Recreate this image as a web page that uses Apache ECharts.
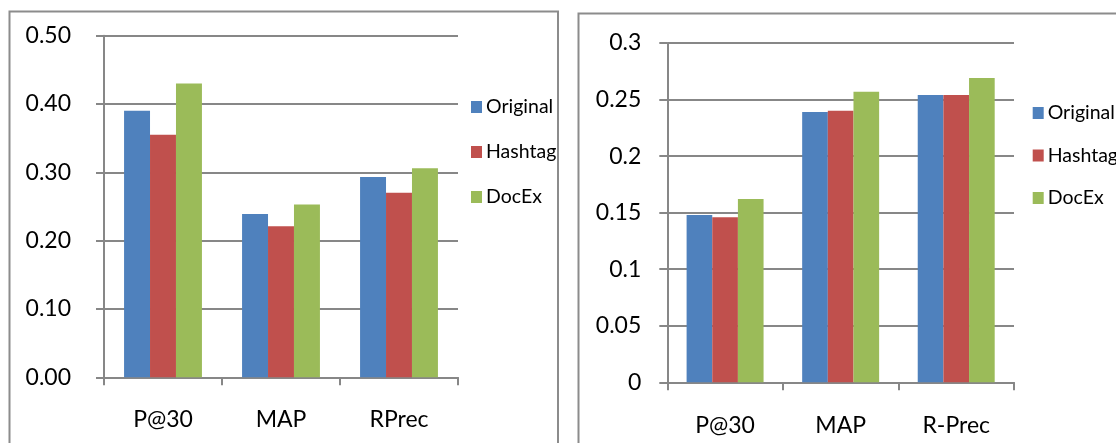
<!DOCTYPE html>
<html>
<head>
<meta charset="utf-8">
<script src="https://cdn.jsdelivr.net/npm/echarts@6/dist/echarts.min.js"></script>
<style>
  html, body { margin: 0; padding: 0; background: #fff; }
  #chart { width: 1116px; height: 443px; }
</style>
</head>
<body>
<div id="chart"></div>
<script>
// ---- data ----
const seriesNames = ['Original', 'Hashtag', 'DocEx'];
const leftCategories = ['P@30', 'MAP', 'RPrec'];
const rightCategories = ['P@30', 'MAP', 'R-Prec'];
const leftOriginal = [0.390, 0.239, 0.293];
const leftHashtag  = [0.355, 0.221, 0.270];
const leftDocEx    = [0.430, 0.253, 0.306];
const rightOriginal = [0.148, 0.239, 0.254];
const rightHashtag  = [0.146, 0.240, 0.254];
const rightDocEx    = [0.162, 0.257, 0.269];
const leftTicks = { min: 0, max: 0.5, interval: 0.1 };
const rightTicks = { min: 0, max: 0.3, interval: 0.05 };

const colors = ['#4F81BD', '#C0504D', '#9BBB59'];
const gridGray = '#878787';
const FONT = 'Lato';

const chart = echarts.init(document.getElementById('chart'), null, { renderer: 'canvas' });

function yAxis(gridIndex, ticks, fmt, margin) {
  return {
    type: 'value', gridIndex: gridIndex,
    min: ticks.min, max: ticks.max, interval: ticks.interval,
    axisLine: { show: true, lineStyle: { color: gridGray, width: 2 } },
    axisTick: { show: true, length: 8, lineStyle: { color: gridGray, width: 2 } },
    splitLine: { show: true, lineStyle: { color: gridGray, width: 2 } },
    axisLabel: { color: '#000', fontFamily: FONT, fontSize: 23, margin: margin, formatter: fmt }
  };
}
function xAxis(gridIndex, cats, margin) {
  return {
    type: 'category', gridIndex: gridIndex, data: cats,
    axisLine: { show: true, lineStyle: { color: gridGray, width: 2 } },
    axisTick: { show: true, length: 8, alignWithLabel: false, lineStyle: { color: gridGray, width: 2 } },
    axisLabel: { color: '#000', fontFamily: FONT, fontSize: 23, margin: margin }
  };
}
function bars(idx, vals, name, cat) {
  return {
    type: 'bar', name: name, xAxisIndex: idx, yAxisIndex: idx, data: vals,
    barGap: '0%', barCategoryGap: cat,
    itemStyle: { color: colors[seriesNames.indexOf(name)] },
    emphasis: { disabled: true }
  };
}

chart.setOption({
  animation: false,
  backgroundColor: '#fff',
  graphic: [
    { type: 'rect', shape: { x: 9.5, y: 11.5, width: 548.5, height: 500 },
      style: { fill: 'none', stroke: '#8c8c8c', lineWidth: 2 }, silent: true },
    { type: 'rect', shape: { x: 578.5, y: 13.5, width: 600, height: 500 },
      style: { fill: 'none', stroke: '#8c8c8c', lineWidth: 2 }, silent: true }
  ],
  grid: [
    { left: 104, top: 35.7, width: 354, height: 341.6, containLabel: false },
    { left: 667.3, top: 43, width: 346.7, height: 339.3, containLabel: false }
  ],
  legend: [
    { data: seriesNames, orient: 'vertical', left: 466, top: 92, icon: 'rect',
      itemWidth: 11, itemHeight: 12, itemGap: 25,
      textStyle: { color: '#000', fontFamily: FONT, fontSize: 19.5, lineHeight: 20, padding: [0, 0, 0, -1] } },
    { data: seriesNames, orient: 'vertical', left: 1027.7, top: 98, icon: 'rect',
      itemWidth: 11, itemHeight: 12, itemGap: 22.5,
      textStyle: { color: '#000', fontFamily: FONT, fontSize: 19.5, lineHeight: 20, padding: [0, 0, 0, -1] } }
  ],
  xAxis: [ xAxis(0, leftCategories, 31), xAxis(1, rightCategories, 32) ],
  yAxis: [
    yAxis(0, leftTicks, v => v.toFixed(2), 33),
    yAxis(1, rightTicks, v => String(+v.toFixed(2)), 26)
  ],
  series: [
    bars(0, leftOriginal, 'Original', '34%'),
    bars(0, leftHashtag, 'Hashtag', '34%'),
    bars(0, leftDocEx, 'DocEx', '34%'),
    bars(1, rightOriginal, 'Original', '33.4%'),
    bars(1, rightHashtag, 'Hashtag', '33.4%'),
    bars(1, rightDocEx, 'DocEx', '33.4%')
  ]
});
</script>
</body>
</html>
